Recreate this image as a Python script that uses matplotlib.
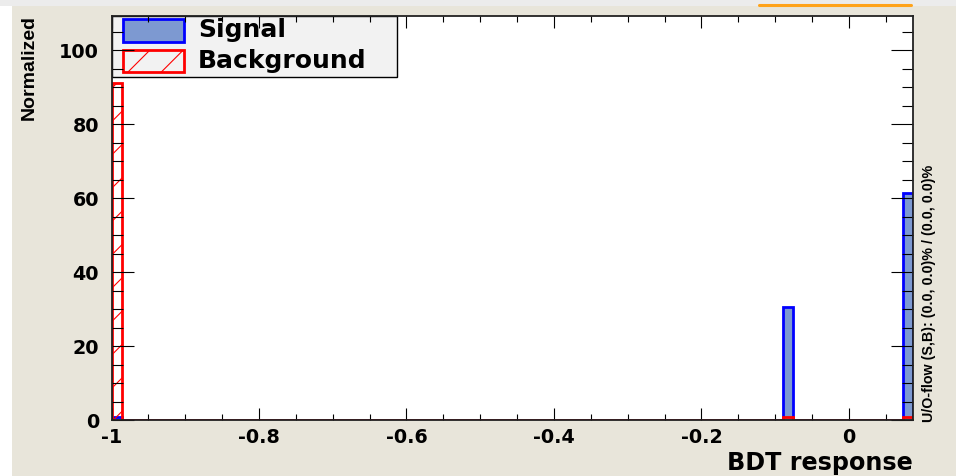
import matplotlib.pyplot as plt
import numpy as np
from matplotlib.patches import Rectangle
from matplotlib.lines import Line2D
from matplotlib.ticker import MultipleLocator

# TMVA style BDT response histogram, 80 bins
n_bins = 80
x_min, x_max = -1.0, 0.087

# non-empty bins: bin index and normalized content
sig_bins = [0, 67, 79]
sig_vals = [0.8, 30.5, 61.3]
bkg_bins = [0, 67, 79]
bkg_vals = [91.2, 0.9, 0.9]

x_ticks = [-1, -0.8, -0.6, -0.4, -0.2, 0]
x_tick_labels = ['-1', '-0.8', '-0.6', '-0.4', '-0.2', '0']
y_ticks = [0, 20, 40, 60, 80, 100]

legend_labels = ['Signal', 'Background']
overflow_text = 'U/O-flow (S,B): (0.0, 0.0)% / (0.0, 0.0)%'

W, H = 956, 476


def fx(x):
    return x / W


def fy(y):
    return 1 - y / H


edges = np.linspace(x_min, x_max, n_bins + 1)
sig = np.zeros(n_bins)
sig[sig_bins] = sig_vals
bkg = np.zeros(n_bins)
bkg[bkg_bins] = bkg_vals

plt.rcParams['font.family'] = 'DejaVu Sans'
plt.rcParams['font.weight'] = 'bold'
plt.rcParams['hatch.color'] = 'red'
plt.rcParams['hatch.linewidth'] = 0.8

fig = plt.figure(figsize=(W / 100, H / 100), dpi=100, facecolor='#e8e5da')

# screenshot borders
fig.add_artist(Rectangle((0, 0), fx(12), 1, transform=fig.transFigure,
                         facecolor='white', edgecolor='none', zorder=0))
fig.add_artist(Rectangle((0, fy(6)), 1, 6 / H, transform=fig.transFigure,
                         facecolor='#ececec', edgecolor='none', zorder=0))
fig.add_artist(Line2D([fx(759), fx(911)], [fy(5), fy(5)], transform=fig.transFigure,
                      color='#ffa31a', lw=2.2, solid_capstyle='round'))

ax = fig.add_axes([fx(111.5), fy(420), fx(913) - fx(111.5), fy(15.7) - fy(420)])
ax.set_facecolor('white')

# signal: filled, blue outline
ax.stairs(sig, edges, fill=True, color='#7d99d1', lw=0)
ax.stairs(sig, edges, color='blue', lw=2.0)
# background: red hatch, red outline
ax.stairs(bkg, edges, fill=True, facecolor='none', edgecolor='red', hatch='/', lw=0)
ax.stairs(bkg, edges, color='red', lw=2.0)

ax.set_xlim(x_min, x_max)
ax.set_ylim(0, 109.3)
ax.set_xticks(x_ticks)
ax.set_xticklabels(x_tick_labels)
ax.set_yticks(y_ticks)
ax.xaxis.set_minor_locator(MultipleLocator(0.05))
ax.yaxis.set_minor_locator(MultipleLocator(5))

ax.tick_params(axis='x', which='major', direction='in', length=8.6, width=0.8,
               top=True, bottom=True, pad=6, labelsize=13.8)
ax.tick_params(axis='x', which='minor', direction='in', length=4.3, width=0.8,
               top=True, bottom=True)
ax.tick_params(axis='y', which='major', direction='in', length=16, width=0.8,
               left=True, right=True, pad=9, labelsize=13.8)
ax.tick_params(axis='y', which='minor', direction='in', length=8, width=0.8,
               left=True, right=True)
for s in ax.spines.values():
    s.set_linewidth(1.3)
    s.set_color('#222222')

# legend box (TMVA style, drawn by hand)
ax.add_patch(Rectangle((fx(111.5), fy(77)), fx(397) - fx(111.5), (77 - 15.7) / H,
                       transform=fig.transFigure, facecolor='#f2f2f2',
                       edgecolor='black', lw=1.0, clip_on=False, zorder=1.2))
ax.add_patch(Rectangle((fx(123), fy(41.5)), 61 / W, 22.5 / H, transform=fig.transFigure,
                       facecolor='#7d99d1', edgecolor='blue', lw=2.0, clip_on=False,
                       zorder=1.3))
ax.add_patch(Rectangle((fx(123), fy(72)), 61 / W, 22 / H, transform=fig.transFigure,
                       facecolor='none', edgecolor='red', hatch='/', lw=2.0,
                       clip_on=False, zorder=1.3))
ax.text(fx(198), fy(37.2), legend_labels[0], transform=fig.transFigure,
        fontsize=18, fontweight='bold', va='baseline', ha='left')
ax.text(fx(198), fy(68), legend_labels[1], transform=fig.transFigure,
        fontsize=18, fontweight='bold', va='baseline', ha='left')

# axis titles
fig.text(fx(913), fy(470), 'BDT response', ha='right', va='baseline',
         fontsize=17.2, fontweight='bold')
fig.text(fx(29), fy(15), 'Normalized', rotation=90, ha='center', va='top',
         fontsize=14, fontweight='bold', family='Liberation Sans')
fig.text(fx(929.5), fy(422), overflow_text, rotation=90, ha='center', va='bottom',
         fontsize=10.3, fontweight='bold', family='Liberation Sans')

fig.savefig('out.png', dpi=100, facecolor=fig.get_facecolor())
